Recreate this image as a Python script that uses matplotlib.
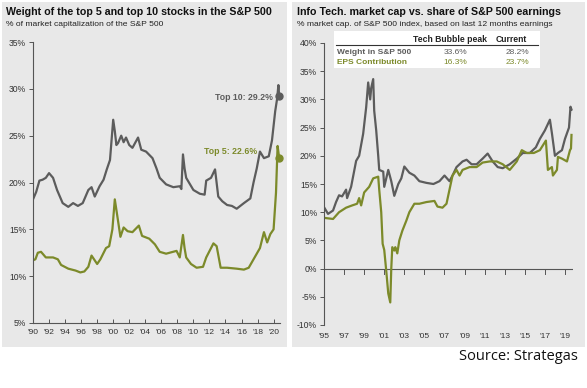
import matplotlib
matplotlib.use("Agg")
import matplotlib.pyplot as plt
from matplotlib.patches import Rectangle

plt.rcParams['font.family'] = ['Liberation Sans', 'DejaVu Sans']

GRAY = '#5c5c5c'
OLIVE = '#7c8a2a'
BG = '#e8e8e8'

# ---- Left panel data: weight of top 10 / top 5 stocks (% of S&P 500 market cap)
top10_year = [1990.0, 1990.4, 1990.8, 1991.2, 1991.6, 1992.0, 1992.5, 1993.0, 1993.4, 1993.7,
              1994.4, 1995.0, 1995.6, 1996.2, 1996.9, 1997.3, 1997.7, 1998.3, 1998.8, 1999.2,
              1999.6, 2000.0, 2000.2, 2000.4, 2000.6, 2001.0, 2001.3, 2001.6, 2002.0, 2002.4,
              2003.1, 2003.5, 2004.1, 2004.9, 2005.4, 2005.8, 2006.6, 2007.5, 2008.3, 2008.5,
              2008.7, 2008.9, 2009.1, 2010.0, 2010.8, 2011.4, 2011.6, 2012.2, 2012.7, 2013.1,
              2013.6, 2014.2, 2014.8, 2015.4, 2016.3, 2017.1, 2017.5, 2017.9, 2018.3, 2018.8,
              2019.4, 2019.8, 2020.2, 2020.45, 2020.6, 2020.7]
top10_val = [18.2, 19.0, 20.2, 20.3, 20.5, 21.0, 20.5, 19.2, 18.4, 17.8,
             17.4, 17.8, 17.5, 17.8, 19.2, 19.5, 18.5, 19.6, 20.3, 21.4,
             22.4, 26.7, 25.5, 24.0, 24.2, 25.0, 24.3, 24.8, 24.0, 23.7,
             24.8, 23.5, 23.3, 22.6, 21.5, 20.5, 19.8, 19.5, 19.6, 19.3,
             23.0, 21.5, 20.5, 19.2, 18.8, 18.7, 20.2, 20.5, 21.4, 18.5,
             18.0, 17.6, 17.5, 17.2, 17.8, 18.3, 20.0, 21.5, 23.3, 22.6,
             22.8, 24.5, 27.6, 29.0, 30.4, 29.2]

top5_year = [1990.0, 1990.3, 1990.6, 1991.0, 1991.6, 1992.5, 1993.1, 1993.5, 1994.4, 1995.3,
             1995.9, 1996.4, 1996.9, 1997.3, 1998.0, 1998.4, 1999.1, 1999.5, 1999.9, 2000.2,
             2000.5, 2000.9, 2001.3, 2001.8, 2002.4, 2003.2, 2003.6, 2004.5, 2005.2, 2005.8,
             2006.6, 2007.9, 2008.3, 2008.7, 2008.9, 2009.1, 2009.7, 2010.4, 2011.2, 2011.6,
             2012.5, 2012.9, 2013.4, 2014.2, 2015.4, 2016.3, 2016.9, 2017.5, 2018.3, 2018.8,
             2019.2, 2019.6, 2020.0, 2020.3, 2020.5, 2020.7]
top5_val = [11.7, 11.8, 12.5, 12.6, 12.0, 12.0, 11.8, 11.2, 10.8, 10.6,
            10.4, 10.5, 11.0, 12.2, 11.3, 11.8, 13.0, 13.2, 15.0, 18.2,
            16.5, 14.2, 15.2, 14.8, 14.7, 15.4, 14.3, 14.0, 13.4, 12.6,
            12.4, 12.7, 12.0, 14.4, 13.0, 12.0, 11.3, 10.9, 11.0, 12.0,
            13.5, 13.2, 10.9, 10.9, 10.8, 10.7, 10.9, 11.8, 13.0, 14.7,
            13.6, 14.5, 15.0, 18.9, 23.9, 22.6]

left_yticks = [5, 10, 15, 20, 25, 30, 35]
left_xticks = list(range(1990, 2021, 2))
left_xlabels = ["'90", "'92", "'94", "'96", "'98", "'00", "'02", "'04", "'06", "'08",
                "'10", "'12", "'14", "'16", "'18", "'20"]

# ---- Right panel data: Info Tech weight vs EPS contribution (%)
wt_year = [1995.0, 1995.4, 1995.9, 1996.2, 1996.5, 1996.8, 1997.2, 1997.3, 1997.7, 1998.2,
           1998.5, 1998.9, 1999.2, 1999.4, 1999.6, 1999.7, 1999.9, 2000.0, 2000.2, 2000.4,
           2000.5, 2000.9, 2001.0, 2001.4, 2001.7, 2002.0, 2002.4, 2002.7, 2003.0, 2003.5,
           2004.0, 2004.5, 2005.2, 2005.9, 2006.5, 2007.0, 2007.5, 2007.8, 2008.2, 2008.5,
           2008.8, 2009.2, 2009.7, 2010.2, 2010.8, 2011.3, 2011.8, 2012.3, 2012.8, 2013.5,
           2014.2, 2014.8, 2015.5, 2016.1, 2016.5, 2017.0, 2017.5, 2017.7, 2018.0, 2018.3,
           2018.7, 2019.0, 2019.4, 2019.55, 2019.65]
wt_val = [10.9, 9.7, 10.3, 11.8, 13.0, 12.8, 14.0, 12.5, 14.5, 19.1,
          20.0, 23.9, 28.6, 33.0, 30.0, 32.0, 33.6, 28.0, 24.5, 20.0,
          17.5, 17.2, 14.5, 17.5, 15.5, 12.9, 15.0, 16.0, 18.1, 17.0,
          16.5, 15.5, 15.2, 15.0, 15.5, 16.5, 15.5, 16.5, 18.0, 18.5,
          19.0, 19.3, 18.5, 18.5, 19.5, 20.4, 19.0, 18.0, 17.8, 18.5,
          19.5, 20.5, 20.5, 21.5, 23.0, 24.5, 26.4, 24.0, 20.0, 20.5,
          21.0, 23.0, 25.0, 28.7, 28.2]

eps_year = [1995.0, 1995.9, 1996.5, 1997.2, 1997.8, 1998.3, 1998.5, 1998.7, 1999.0, 1999.5,
            1999.9, 2000.4, 2000.5, 2000.7, 2000.84, 2001.0, 2001.2, 2001.4, 2001.6, 2001.7,
            2001.8, 2002.0, 2002.1, 2002.3, 2002.5, 2002.8, 2003.2, 2003.5, 2004.0, 2004.5,
            2005.2, 2006.0, 2006.3, 2006.8, 2007.2, 2007.5, 2007.8, 2008.2, 2008.5, 2008.8,
            2009.5, 2010.2, 2010.8, 2011.5, 2012.2, 2012.8, 2013.5, 2014.2, 2014.7, 2015.2,
            2015.9, 2016.5, 2017.1, 2017.3, 2017.7, 2017.8, 2018.2, 2018.3, 2018.7, 2019.2,
            2019.5, 2019.6, 2019.65]
eps_val = [9.0, 8.8, 10.0, 10.8, 11.2, 11.5, 12.5, 11.2, 13.5, 14.5,
           16.0, 16.3, 14.0, 10.0, 4.4, 3.3, -0.4, -4.4, -6.0, 0.0,
           3.8, 3.2, 3.8, 2.7, 5.0, 6.7, 8.5, 10.0, 11.5, 11.5,
           11.8, 12.0, 11.0, 10.8, 11.5, 14.0, 16.5, 17.5, 16.5, 17.5,
           18.0, 18.0, 18.8, 19.0, 19.0, 18.5, 17.5, 19.0, 21.0, 20.5,
           20.5, 21.0, 22.7, 17.5, 18.0, 16.5, 17.5, 19.8, 19.5, 19.0,
           21.0, 21.3, 23.7]

right_yticks = [-10, -5, 0, 5, 10, 15, 20, 25, 30, 35, 40]
right_xticks = list(range(1995, 2020, 2))
right_xlabels = ["'95", "'97", "'99", "'01", "'03", "'05", "'07", "'09", "'11", "'13",
                 "'15", "'17", "'19"]

table_cols = ["Tech Bubble peak", "Current"]
table_rows = ["Weight in S&P 500", "EPS Contribution"]
table_vals = [["33.6%", "28.2%"], ["16.3%", "23.7%"]]

W, H = 587, 388
fig = plt.figure(figsize=(W / 100, H / 100), dpi=100)
fig.patch.set_facecolor('white')

def px(x0, y0, x1, y1):
    return [x0 / W, 1 - y1 / H, (x1 - x0) / W, (y1 - y0) / H]

# panel backgrounds
for (x0, y0, x1, y1) in [(2, 2, 287, 347), (292, 2, 585, 347)]:
    fig.patches.append(Rectangle((x0 / W, 1 - y1 / H), (x1 - x0) / W, (y1 - y0) / H,
                                 transform=fig.transFigure, facecolor=BG,
                                 edgecolor='none', zorder=-5))

# titles
fig.text(6 / W, 1 - 12 / H, "Weight of the top 5 and top 10 stocks in the S&P 500",
         fontsize=7.7, fontweight='bold', va='center', ha='left', color='#111111')
fig.text(6 / W, 1 - 25 / H, "% of market capitalization of the S&P 500",
         fontsize=6.1, va='center', ha='left', color='#222222')
fig.text(297 / W, 1 - 12 / H, "Info Tech. market cap vs. share of S&P 500 earnings",
         fontsize=7.7, fontweight='bold', va='center', ha='left', color='#111111')
fig.text(297 / W, 1 - 25 / H, "% market cap. of S&P 500 index, based on last 12 months earnings",
         fontsize=6.1, va='center', ha='left', color='#222222')
fig.text(0.985, 1 - 357 / H, "Source: Strategas", fontsize=10.5, ha='right', va='center',
         family=['Open Sans', 'DejaVu Sans'], color='#111111')

# ---- Left axes
ax1 = fig.add_axes(px(33, 42, 280, 323))
ax1.set_facecolor('none')
ax1.plot(top10_year, top10_val, color=GRAY, lw=1.6, solid_joinstyle='round')
ax1.plot(top5_year, top5_val, color=OLIVE, lw=1.6, solid_joinstyle='round')
ax1.plot([top10_year[-1]], [top10_val[-1]], 'o', color=GRAY, ms=5, clip_on=False)
ax1.plot([top5_year[-1]], [top5_val[-1]], 'o', color=OLIVE, ms=5, clip_on=False)
ax1.text(2019.9, 29.1, "Top 10: 29.2%", color=GRAY, fontsize=6.3, fontweight='bold',
         ha='right', va='center')
ax1.text(2018.0, 23.3, "Top 5: 22.6%", color=OLIVE, fontsize=6.3, fontweight='bold',
         ha='right', va='center')
ax1.set_xlim(1990, 2020.8)
ax1.set_ylim(5, 35)
ax1.set_yticks(left_yticks)
ax1.set_yticklabels([f"{v}%" for v in left_yticks])
ax1.set_xticks(left_xticks)
ax1.set_xticklabels(left_xlabels)
for s in ['top', 'right']:
    ax1.spines[s].set_visible(False)
for s in ['left', 'bottom']:
    ax1.spines[s].set_color('#555555')
    ax1.spines[s].set_linewidth(0.8)
ax1.tick_params(axis='y', direction='out', length=3, width=0.7, colors='#555555',
                labelsize=6.2, labelcolor='#333333', pad=2)
ax1.tick_params(axis='x', direction='in', length=3, width=0.7, colors='#555555',
                labelsize=6.0, labelcolor='#333333', pad=4)

# ---- Right axes
ax2 = fig.add_axes(px(324, 43, 573, 325))
ax2.set_facecolor('none')
ax2.plot(wt_year, wt_val, color=GRAY, lw=1.6, solid_joinstyle='round')
ax2.plot(eps_year, eps_val, color=OLIVE, lw=1.6, solid_joinstyle='round')
ax2.set_xlim(1995, 2019.8)
ax2.set_ylim(-10, 40)
ax2.set_yticks(right_yticks)
ax2.set_yticklabels([f"{v}%" for v in right_yticks])
ax2.set_xticks(right_xticks)
ax2.set_xticklabels(right_xlabels)
for s in ['top', 'right', 'bottom']:
    ax2.spines[s].set_visible(False)
ax2.spines['left'].set_color('#555555')
ax2.spines['left'].set_linewidth(0.8)
ax2.axhline(0, color='#555555', lw=0.8, zorder=1)
# tick marks on the zero line
for xt in right_xticks[1:]:
    ax2.plot([xt, xt], [0, -0.9], color='#555555', lw=0.7, zorder=1)
ax2.tick_params(axis='y', direction='out', length=3, width=0.7, colors='#555555',
                labelsize=6.2, labelcolor='#333333', pad=2)
ax2.tick_params(axis='x', length=0, labelsize=6.0, labelcolor='#333333', pad=6)

# table box
tb = fig.add_axes(px(334, 31, 540, 68))
tb.set_xlim(0, 1)
tb.set_ylim(0, 1)
tb.set_facecolor('white')
for s in tb.spines.values():
    s.set_visible(False)
tb.set_xticks([])
tb.set_yticks([])
tb.text(0.745, 0.78, table_cols[0], ha='right', va='center', fontsize=6.2, fontweight='bold',
        color='#222222')
tb.text(0.937, 0.78, table_cols[1], ha='right', va='center', fontsize=6.2, fontweight='bold',
        color='#222222')
tb.plot([0.01, 0.99], [0.62, 0.62], color='#333333', lw=0.8)
row_colors = [GRAY, OLIVE]
row_y = [0.43, 0.16]
for i, (r, c) in enumerate(zip(table_rows, row_colors)):
    y = row_y[i]
    tb.text(0.015, y, r, ha='left', va='center', fontsize=6.0, fontweight='bold', color=c)
    tb.text(0.59, y, table_vals[i][0], ha='center', va='center', fontsize=6.0, color=c)
    tb.text(0.95, y, table_vals[i][1], ha='right', va='center', fontsize=6.0, color=c)

fig.savefig("out.png", dpi=100, facecolor='white')
